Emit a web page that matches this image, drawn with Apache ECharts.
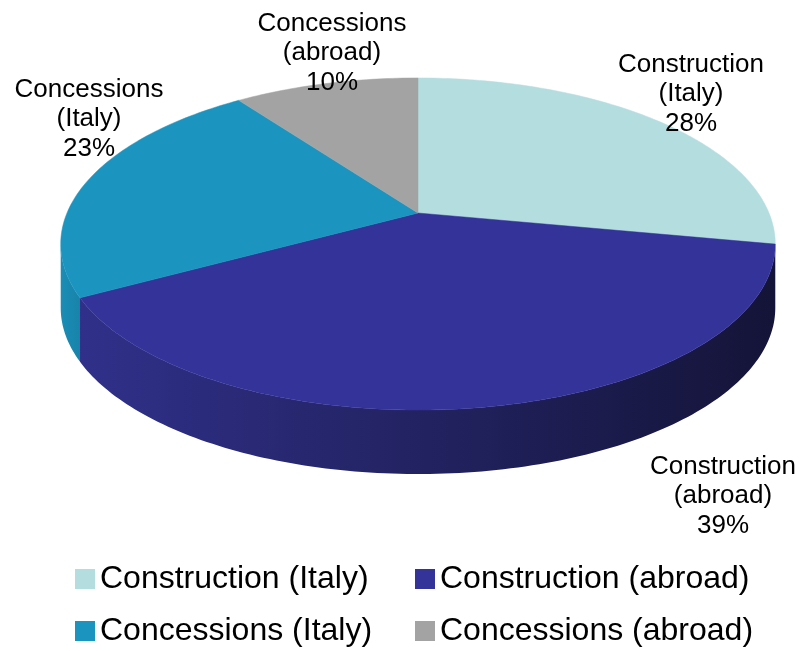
<!DOCTYPE html>
<html>
<head>
<meta charset="utf-8">
<script src="https://cdn.jsdelivr.net/npm/echarts@6/dist/echarts.min.js"></script>
<style>
  html, body { margin: 0; padding: 0; background: #ffffff; }
  #chart { width: 802px; height: 651px; }
</style>
</head>
<body>
<div id="chart"></div>
<script>
// Revenue split by business area (%)
const categories = ['Construction (Italy)', 'Construction (abroad)', 'Concessions (Italy)', 'Concessions (abroad)'];
const shares = [28, 39, 23, 10];

// Face colours and wall (side) colours per slice
const topColors = ['#b4dde0', '#333399', '#1b95c0', '#a3a3a3'];
const wallColors = [
  ['#9fcbce', '#97c3c6'],
  ['#30308a', '#141438'],
  ['#1a8db6', '#1883aa'],
  ['#8e8e8e', '#7a7a7a']
];

// Label block centres (pixels) for each slice
const labelAnchors = [[691, 94], [723, 496], [89, 119], [332, 53]];

// Legend cell positions (left, top) for each category: two rows of two
const legendCells = [[75, 563], [415, 563], [75, 615], [415, 615]];

// Perspective projection of the disc onto the page
const CX = 418, CY = 213, A = 351, E = 120.5, K = -0.1867, DEPTH = 64;
function proj(theta, drop) {
  const u = Math.sin(theta), v = -Math.cos(theta);
  const w = 1 + K * v;
  return [CX + A * u / w, (CY + E * v) / w + (drop || 0)];
}
// Silhouette extremes: the outer wall is visible between these angles
const TH_R = Math.acos(K);
const TH_L = 2 * Math.PI - TH_R;

const total = shares.reduce((s, v) => s + v, 0);

function arc(a, b, drop) {
  const pts = [];
  const n = Math.max(2, Math.ceil((b - a) / (Math.PI / 180)));
  for (let j = 0; j <= n; j++) pts.push(proj(a + (b - a) * j / n, drop));
  return pts;
}

function drawSlice(i, api) {
  const value = api.value(0);
  let before = 0;
  for (let k = 0; k < i; k++) before += shares[k];
  const t0 = before / total * 2 * Math.PI;
  const t1 = (before + value) / total * 2 * Math.PI;
  const children = [];

  const a = Math.max(t0, TH_R), b = Math.min(t1, TH_L);
  if (a < b) {
    const topEdge = arc(a, b, 0);
    const bottomEdge = arc(a, b, DEPTH).reverse();
    children.push({
      type: 'polygon',
      z2: 1,
      shape: { points: topEdge.concat(bottomEdge) },
      style: {
        fill: new echarts.graphic.LinearGradient(0, 0, 1, 0, [
          { offset: 0, color: wallColors[i][0] },
          { offset: 1, color: wallColors[i][1] }
        ]),
        stroke: null
      }
    });
  }

  children.push({
    type: 'polygon',
    z2: 5,
    shape: { points: [[CX, CY]].concat(arc(t0, t1, 0)) },
    style: { fill: topColors[i], stroke: topColors[i], lineWidth: 0.5 }
  });

  const name = categories[i].replace(' (', '\n(');
  children.push({
    type: 'text',
    z2: 10,
    x: labelAnchors[i][0],
    y: labelAnchors[i][1],
    style: {
      text: name + '\n' + value + '%',
      fill: '#000000',
      font: '26px "Liberation Sans", Arial, sans-serif',
      lineHeight: 29.5,
      align: 'center',
      verticalAlign: 'middle'
    }
  });
  return { type: 'group', children };
}

const chart = echarts.init(document.getElementById('chart'), null, { renderer: 'canvas' });

chart.setOption({
  backgroundColor: '#ffffff',
  animation: false,
  legend: categories.map((name, i) => ({
    data: [name],
    left: legendCells[i][0],
    top: legendCells[i][1],
    padding: 0,
    icon: 'rect',
    itemWidth: 20,
    itemHeight: 20,
    selectedMode: false,
    textStyle: {
      color: '#000000',
      fontSize: 32,
      fontFamily: '"Liberation Sans", Arial, sans-serif'
    }
  })),
  series: categories.map((name, i) => ({
    type: 'custom',
    name: name,
    coordinateSystem: 'none',
    itemStyle: { color: topColors[i] },
    renderItem: (params, api) => drawSlice(i, api),
    data: [shares[i]]
  }))
});
</script>
</body>
</html>
